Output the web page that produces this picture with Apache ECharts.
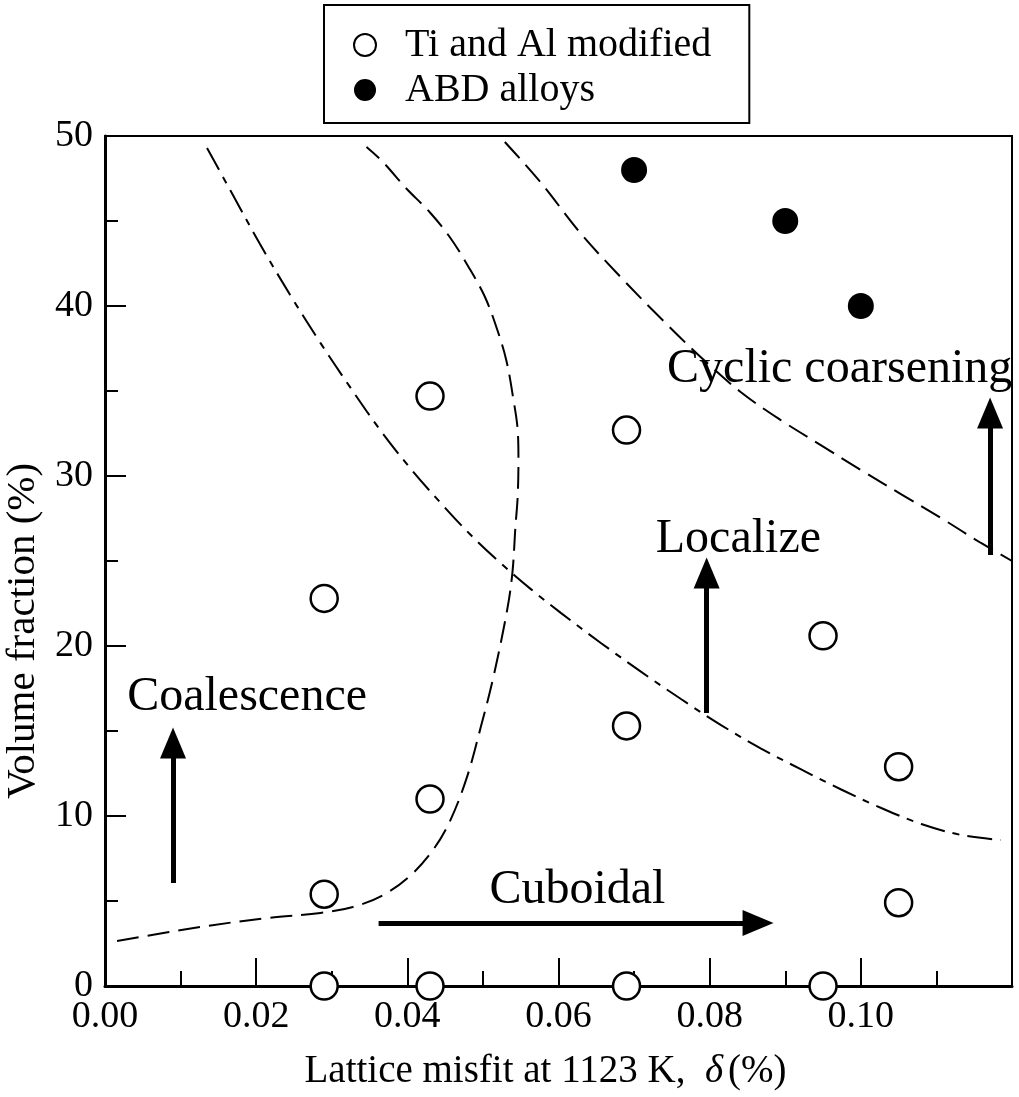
<!DOCTYPE html>
<html>
<head>
<meta charset="utf-8">
<script src="https://cdn.jsdelivr.net/npm/echarts@6/dist/echarts.min.js"></script>
<style>
html,body{margin:0;padding:0;background:#fff;}
#c{width:1019px;height:1097px;}
</style>
</head>
<body>
<div id="c"></div>
<script>
// ---- data ----
const xTickLabels = ['0.00', '0.02', '0.04', '0.06', '0.08', '0.10'];
const yTickLabels = ['0', '10', '20', '30', '40', '50'];

const tiAlX = [0.029, 0.043, 0.069, 0.095, 0.029, 0.029, 0.043, 0.043, 0.069, 0.069, 0.095, 0.105, 0.105];
const tiAlY = [0, 0, 0, 0, 5.4, 22.8, 34.7, 11.0, 32.7, 15.3, 20.6, 12.9, 4.9];

const abdX = [0.070, 0.090, 0.100];
const abdY = [48.0, 45.0, 40.0];

// coalescence boundary (dashed)
const curveAX = [0.0016, 0.0126, 0.0215, 0.0285, 0.0328, 0.0368, 0.0404, 0.0434, 0.0457, 0.0479, 0.0497, 0.0514, 0.0532, 0.0539, 0.0543, 0.0546, 0.0547, 0.0546, 0.0540, 0.0531, 0.0519, 0.0503, 0.0481, 0.0457, 0.0430, 0.0399, 0.0367, 0.0346];
const curveAY = [2.65, 3.47, 4.0, 4.3, 4.65, 5.35, 6.5, 8.0, 9.76, 12.3, 15.2, 18.2, 22.1, 24.3, 27.0, 28.8, 30.9, 32.7, 34.6, 36.8, 38.6, 40.5, 42.3, 44.0, 45.5, 46.9, 48.5, 49.35];

// localize boundary (dash-dot)
const curveBX = [0.0135, 0.0166, 0.0205, 0.0245, 0.0285, 0.0325, 0.0364, 0.0404, 0.0444, 0.0483, 0.0523, 0.0563, 0.0603, 0.0656, 0.0709, 0.0762, 0.0815, 0.0868, 0.0921, 0.0974, 0.1027, 0.1080, 0.1133, 0.1185];
const curveBY = [49.29, 46.79, 43.65, 40.65, 37.83, 35.18, 32.71, 30.45, 28.42, 26.57, 24.89, 23.36, 21.95, 20.18, 18.49, 16.88, 15.35, 13.97, 12.74, 11.56, 10.47, 9.53, 8.88, 8.59];

// cyclic coarsening boundary (dashed)
const curveCX = [0.0529, 0.0576, 0.0629, 0.0682, 0.0735, 0.0788, 0.0841, 0.0894, 0.0947, 0.1000, 0.1053, 0.1106, 0.1159, 0.1200];
const curveCY = [49.65, 47.29, 44.29, 41.71, 39.29, 37.0, 34.94, 33.29, 31.82, 30.35, 28.94, 27.53, 26.06, 25.0];

// arrows: start and head points
const arrowStartX = [0.009, 0.0362, 0.0796, 0.1171];
const arrowStartY = [6.06, 3.7, 16.06, 25.35];
const arrowEndX = [0.009, 0.0864, 0.0796, 0.1171];
const arrowEndY = [14.3, 3.7, 24.3, 33.7];

// annotation texts
const noteTexts = ['Coalescence', 'Cuboidal', 'Localize', 'Cyclic coarsening'];
const noteX = [0.0188, 0.0625, 0.0838, 0.0972];
const noteY = [17.0, 5.6, 26.3, 36.3];

// ---- chart ----
const FONT = "'Liberation Serif', 'Times New Roman', serif";
const zip = (a, b) => a.map((v, i) => [v, b[i]]);

const chart = echarts.init(document.getElementById('c'), null, {renderer: 'canvas'});

const option = {
  animation: false,
  backgroundColor: '#fff',
  textStyle: {fontFamily: FONT, color: '#000'},
  grid: {
    left: 105, right: 7, top: 136, bottom: 111,
    containLabel: false,
    outerBoundsMode: 'none',
    show: true, borderColor: '#000', borderWidth: 2, backgroundColor: 'transparent'
  },
  legend: {
    orient: 'vertical',
    left: 324, top: 5,
    padding: [20, 38, 13, 29],
    itemWidth: 70, itemHeight: 22, itemGap: 5,
    borderColor: '#000', borderWidth: 2,
    selectedMode: false,
    textStyle: {fontSize: 40, fontFamily: FONT, color: '#000', lineHeight: 38},
    data: [
      {name: 'Ti and Al modified', icon: 'circle', itemStyle: {color: '#fff', borderColor: '#000', borderWidth: 2, opacity: 1}},
      {name: 'ABD alloys', icon: 'circle', itemStyle: {color: '#000', borderColor: '#000', borderWidth: 0, opacity: 1}}
    ]
  },
  xAxis: {
    type: 'value', min: 0, max: 0.12, interval: 0.02,
    name: 'Lattice misfit at 1123 K,  {d|δ}(%)',
    nameLocation: 'middle', nameGap: 66,
    nameTextStyle: {fontSize: 39, fontFamily: FONT, color: '#000', padding: [0, 26, 0, 0],
      rich: {d: {fontSize: 39, fontFamily: FONT, fontStyle: 'italic', color: '#000', padding: [0, 5, 0, 0]}}},
    axisLine: {show: true, onZero: false, lineStyle: {color: '#000', width: 3}},
    axisTick: {show: true, inside: true, length: 28, lineStyle: {color: '#000', width: 2}},
    minorTick: {show: true, splitNumber: 2, length: 15, lineStyle: {color: '#000', width: 2}},
    splitLine: {show: false},
    axisLabel: {fontSize: 38, fontFamily: FONT, color: '#000', margin: 12,
      formatter: v => { const i = Math.round(v / 0.02); return (Math.abs(v - i * 0.02) < 1e-9 && xTickLabels[i]) ? xTickLabels[i] : ''; }}
  },
  yAxis: {
    type: 'value', min: 0, max: 50, interval: 10,
    name: 'Volume fraction (%)',
    nameLocation: 'middle', nameGap: 51,
    nameTextStyle: {fontSize: 41, fontFamily: FONT, color: '#000', padding: [0, 140, 0, 0]},
    axisLine: {show: true, onZero: false, lineStyle: {color: '#000', width: 3}},
    axisTick: {show: true, inside: true, length: 21, lineStyle: {color: '#000', width: 2}},
    minorTick: {show: true, splitNumber: 2, length: 13, lineStyle: {color: '#000', width: 2}},
    splitLine: {show: false},
    axisLabel: {fontSize: 38, fontFamily: FONT, color: '#000', margin: 12,
      formatter: v => yTickLabels[Math.round(v / 10)] || ''}
  },
  series: [
    {
      name: 'curveA', type: 'line', data: zip(curveAX, curveAY), showSymbol: false, smooth: 0.35,
      silent: true, z: 3,
      lineStyle: {color: '#000', width: 2, type: [22, 9]}
    },
    {
      name: 'curveB', type: 'line', data: zip(curveBX, curveBY), showSymbol: false, smooth: 0.35,
      silent: true, z: 3,
      lineStyle: {color: '#000', width: 2, type: [25, 8, 7, 8]}
    },
    {
      name: 'curveC', type: 'line', data: zip(curveCX, curveCY), showSymbol: false, smooth: 0.35,
      silent: true, z: 3,
      lineStyle: {color: '#000', width: 2, type: [22, 9]}
    },
    {
      name: 'arrows', type: 'lines', coordinateSystem: 'cartesian2d', silent: true, z: 4,
      symbol: ['none', 'triangle'], symbolSize: [1, [26, 31]],
      lineStyle: {color: '#000', width: 5, opacity: 1, curveness: 0},
      itemStyle: {color: '#000', opacity: 1},
      data: arrowStartX.map((x, i) => ({coords: [[x, arrowStartY[i]], [arrowEndX[i], arrowEndY[i]]]}))
    },
    {
      name: 'notes', type: 'scatter', silent: true, z: 6, clip: false,
      symbolSize: 1, itemStyle: {color: 'rgba(0,0,0,0)', opacity: 1},
      label: {show: true, position: 'inside', fontSize: 48, fontFamily: FONT, color: '#000', opacity: 1,
        formatter: p => noteTexts[p.dataIndex]},
      data: zip(noteX, noteY)
    },
    {
      name: 'Ti and Al modified', type: 'scatter', data: zip(tiAlX, tiAlY), symbol: 'circle', symbolSize: 27,
      clip: false, z: 5,
      itemStyle: {color: '#fff', borderColor: '#000', borderWidth: 2.5, opacity: 1}
    },
    {
      name: 'ABD alloys', type: 'scatter', data: zip(abdX, abdY), symbol: 'circle', symbolSize: 26,
      clip: false, z: 5,
      itemStyle: {color: '#000', borderColor: '#000', borderWidth: 0, opacity: 1}
    }
  ]
};
chart.setOption(option);
</script>
</body>
</html>
